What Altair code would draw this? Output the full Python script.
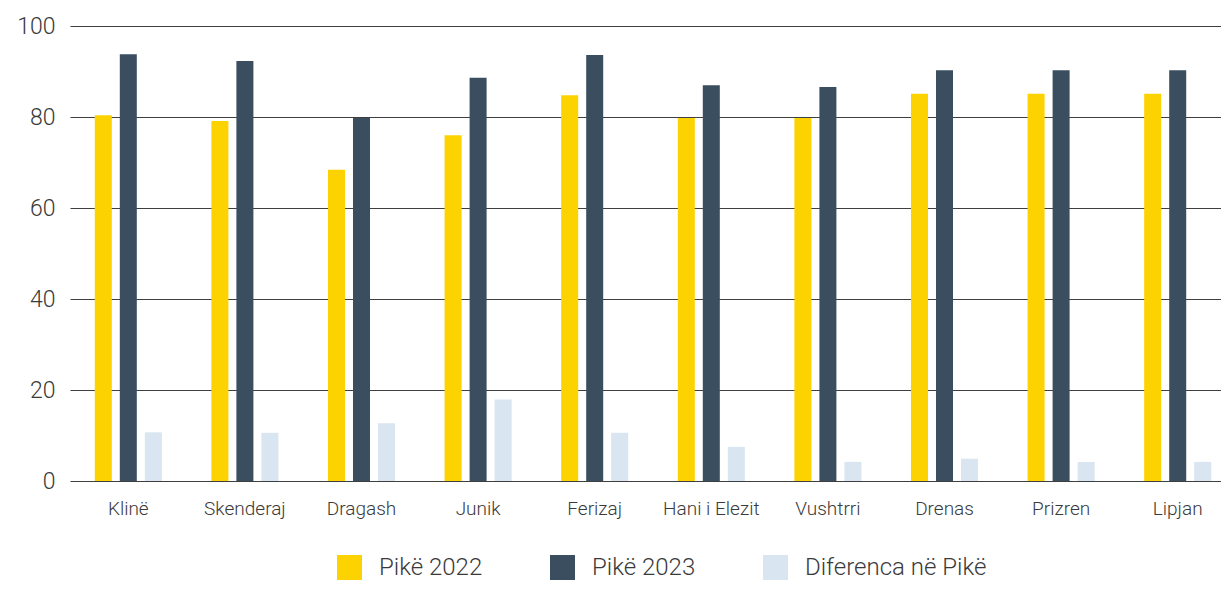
import altair as alt
import pandas as pd

categories = ["Klinë", "Skenderaj", "Dragash", "Junik", "Ferizaj",
              "Hani i Elezit", "Vushtrri", "Drenas", "Prizren", "Lipjan"]
pike_2022 = [80.4, 79.1, 68.4, 76.0, 84.8, 79.8, 79.8, 85.1, 85.1, 85.1]
pike_2023 = [93.8, 92.3, 79.8, 88.6, 93.6, 87.0, 86.6, 90.3, 90.3, 90.3]
diferenca = [10.7, 10.6, 12.7, 17.9, 10.6, 7.5, 4.2, 4.9, 4.2, 4.2]
series = ["Pikë 2022", "Pikë 2023", "Diferenca në Pikë"]
colors = ["#FCD200", "#3A4E60", "#D9E5F0"]

rows = []
for i, c in enumerate(categories):
    for s, vals in zip(series, [pike_2022, pike_2023, diferenca]):
        rows.append({"Komuna": c, "Seria": s, "Vlera": vals[i]})
df = pd.DataFrame(rows)

FONT = "Roboto"
TXT = "#3a3a3a"

chart = alt.Chart(df).mark_bar().encode(
    x=alt.X("Komuna:N", sort=categories, title=None,
            scale=alt.Scale(paddingInner=0.425, paddingOuter=0.2125, range=[0, 1166]),
            axis=alt.Axis(labelAngle=0, labelFontSize=19, labelColor=TXT,
                          labelFont=FONT, labelFontWeight=300, labelPadding=18,
                          labelLimit=300, ticks=False, domain=False)),
    xOffset=alt.XOffset("Seria:N", sort=series,
                        scale=alt.Scale(paddingInner=0.32, paddingOuter=0)),
    y=alt.Y("Vlera:Q", title=None,
            scale=alt.Scale(domain=[0, 100], nice=False),
            axis=alt.Axis(values=[0, 20, 40, 60, 80, 100], labelFontSize=23,
                          labelColor=TXT, labelFont=FONT, labelFontWeight=300,
                          labelPadding=15, ticks=False, domain=False,
                          grid=True, gridColor="#3f3f3f", gridWidth=1.2)),
    color=alt.Color("Seria:N", sort=series,
                    scale=alt.Scale(domain=series, range=colors),
                    legend=alt.Legend(title=None, orient="none", direction="horizontal",
                                      legendX=267, legendY=529,
                                      symbolType="square", symbolSize=625,
                                      symbolStrokeWidth=0, symbolOpacity=1,
                                      labelFontSize=24, labelFont=FONT, labelFontWeight=300,
                                      labelColor=TXT, labelOffset=17, labelLimit=400,
                                      columnPadding=67, padding=0)),
).properties(
    width=1151, height=455,
    padding={"left": 62, "top": 18, "right": 0, "bottom": 102},
    autosize=alt.AutoSizeParams(type="none"),
).configure_view(stroke=None)

chart.save("out.html", embed_options={"renderer": "svg", "actions": False})
